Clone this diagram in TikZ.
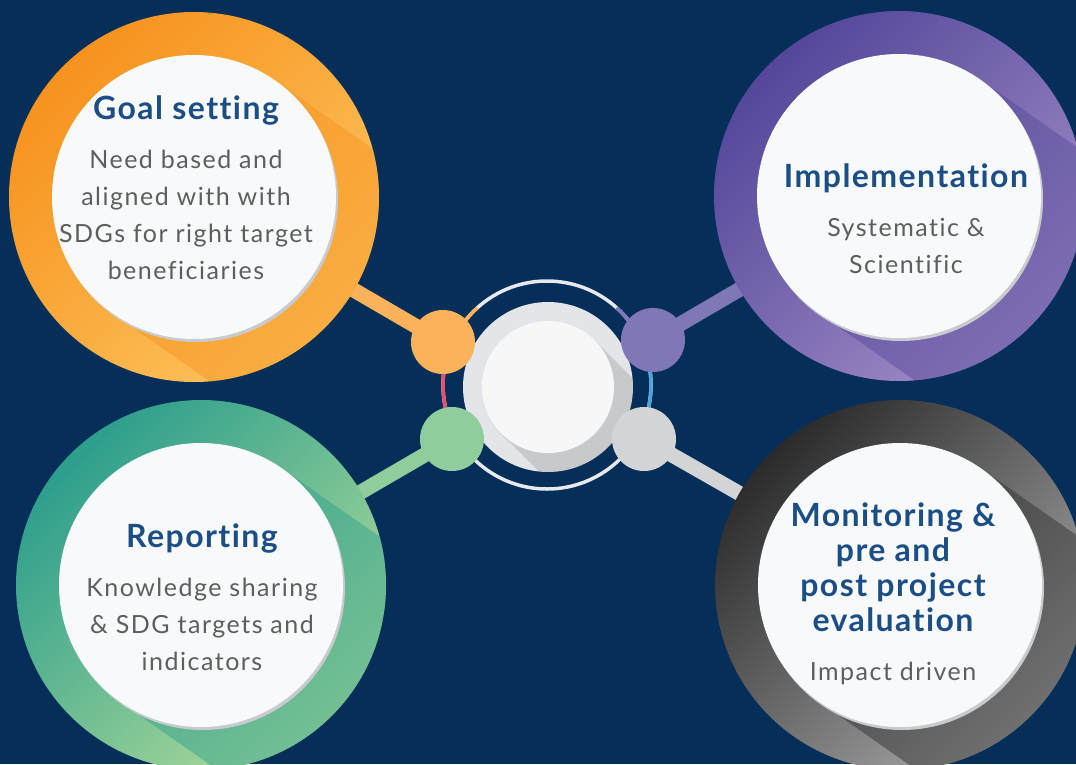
\documentclass[tikz,border=0pt]{standalone}
\usepackage{fontspec}
\setmainfont[Ligatures=NoCommon]{Lato}
\usetikzlibrary{positioning,calc}
\pgfdeclarelayer{back}
\pgfdeclarelayer{links}
\pgfsetlayers{back,links,main}
\definecolor{navybg}{HTML}{052E58}
\definecolor{titleblue}{HTML}{1C4E86}
\definecolor{bodygray}{HTML}{5E5E5E}
\definecolor{facewhite}{HTML}{F8F9FA}
\definecolor{rimgray}{HTML}{C9CACD}
\definecolor{orangeA}{HTML}{F7921E}
\definecolor{orangeB}{HTML}{FDC45E}
\definecolor{orangedot}{HTML}{FBB25A}
\definecolor{purpleA}{HTML}{54479A}
\definecolor{purpleB}{HTML}{A08CC6}
\definecolor{purpledot}{HTML}{8077B6}
\definecolor{greenA}{HTML}{2C9E8C}
\definecolor{greenB}{HTML}{AEDB9A}
\definecolor{greendot}{HTML}{8FCD9D}
\definecolor{grayA}{HTML}{2B2B2B}
\definecolor{grayB}{HTML}{A8A8A8}
\definecolor{graydot}{HTML}{D3D4D6}
\definecolor{hubgray}{HTML}{E4E5E8}
\definecolor{hubwhite}{HTML}{F7F7F8}
\definecolor{ringwhite}{HTML}{E8E9EC}
\definecolor{ringpink}{HTML}{E9506F}
\definecolor{ringblue}{HTML}{4DA6D9}
\tikzset{
  stagering/.style 2 args={circle, inner sep=0pt, minimum size=370pt,
    top color=#1, bottom color=#2, shading angle=45,
    path picture={\fill[#1, opacity=.45]
      ($(path picture bounding box.center)+(125:142)$) -- ++(35:420)
      -- ++(-55:284) -- ($(path picture bounding box.center)+(-55:142)$) -- cycle;}},
  stageface/.style={circle, inner sep=0pt, minimum size=284pt, fill=facewhite},
  stagerim/.style={fill=rimgray},
  stagetitle/.style={font=\fontsize{32}{35}\selectfont\bfseries\addfontfeature{LetterSpace=4.5},
    text=titleblue, align=center, inner sep=0pt, text depth=8pt, anchor=south},
  stagetext/.style={font=\fontsize{25}{37}\selectfont\addfontfeature{LetterSpace=6},
    text=bodygray, align=center, inner sep=0pt},
  linkdot/.style={circle, inner sep=0pt, minimum size=64pt, fill=#1},
  linkbar/.style={line width=15pt, draw=#1},
  hubarc/.style={line width=3.5pt, draw=#1}
}
\begin{document}
\begin{tikzpicture}[x=1pt, y=-1pt]
  \useasboundingbox (0,0) rectangle (1076,764);
  \begin{pgfonlayer}{back}
    \fill[navybg] (0,0) rectangle (1076,764);
  \end{pgfonlayer}

  % the four stages
  \node[stagering={orangeA}{orangeB}] (goal) at (194,197) {};
  \fill[stagerim] ($(goal)+(2,3)$) circle[radius=142];
  \node[stageface] (goalface) at (goal) {};
  \node[stagetitle] (goaltitle) at (186,128) {Goal setting};
  \node[stagetext, below=22pt of goaltitle] (goaltext)
    {Need based and\\aligned with with\\SDGs for right target\\beneficiaries};

  \node[stagering={purpleA}{purpleB}] (impl) at (899,196) {};
  \fill[stagerim] ($(impl)+(2,3)$) circle[radius=142];
  \node[stageface] (implface) at (impl) {};
  \node[stagetitle] (impltitle) at (906,196) {Implementation};
  \node[stagetext, below=22pt of impltitle] (impltext) {Systematic \&\\Scientific};

  \node[stagering={greenA}{greenB}] (report) at (201,585) {};
  \fill[stagerim] ($(report)+(2,3)$) circle[radius=142];
  \node[stageface] (reportface) at (report) {};
  \node[stagetitle] (reporttitle) at (202,556) {Reporting};
  \node[stagetext, below=22pt of reporttitle] (reporttext)
    {Knowledge sharing\\\& SDG targets and\\indicators};

  \node[stagering={grayA}{grayB}] (monitor) at (900,585) {};
  \fill[stagerim] ($(monitor)+(2,3)$) circle[radius=142];
  \node[stageface] (monitorface) at (monitor) {};
  \node[stagetitle] (monitortitle) at (893,640)
    {Monitoring \&\\pre and\\post project\\evaluation};
  \node[stagetext, below=22pt of monitortitle] (monitortext) {Impact driven};

  % hub
  \node[circle, inner sep=0pt, minimum size=208pt, draw=ringwhite, line width=3.5pt]
    (hubring) at (547,385) {};
  \draw[hubarc=ringpink] ($(hubring.center)+(150:104)$) arc[start angle=150, end angle=205, radius=104];
  \draw[hubarc=ringblue] ($(hubring.center)+(-25:104)$) arc[start angle=-25, end angle=30, radius=104];
  \draw[hubarc=orangedot] ($(hubring.center)+(214:104)$) arc[start angle=214, end angle=228, radius=104];
  \draw[hubarc=purpledot] ($(hubring.center)+(-48:104)$) arc[start angle=-48, end angle=-34, radius=104];
  \node[circle, inner sep=0pt, minimum size=170pt, fill=hubgray,
    path picture={\fill[black, opacity=.12]
      ($(path picture bounding box.center)+(135:66)$) -- ++(45:200)
      -- ++(-45:132) -- ($(path picture bounding box.center)+(-45:66)$) -- cycle;}]
    (hubbase) at (548,387) {};
  \fill[rimgray] ($(hubbase)+(1,2)$) circle[radius=66];
  \node[circle, inner sep=0pt, minimum size=132pt, fill=hubwhite] (hubface) at (hubbase) {};

  % dots and links
  \node[linkdot=orangedot] (goaldot) at (443,342) {};
  \node[linkdot=purpledot] (impldot) at (653,340) {};
  \node[linkdot=greendot] (reportdot) at (452,439) {};
  \node[linkdot=graydot] (monitordot) at (644,439) {};
  \begin{pgfonlayer}{links}
    \draw[linkbar=orangedot] (goaldot.center) -- (goal.center);
    \draw[linkbar=purpledot] (impldot.center) -- (impl.center);
    \draw[linkbar=greendot] (reportdot.center) -- (report.center);
    \draw[linkbar=graydot] (monitordot.center) -- (monitor.center);
  \end{pgfonlayer}
\end{tikzpicture}
\end{document}
